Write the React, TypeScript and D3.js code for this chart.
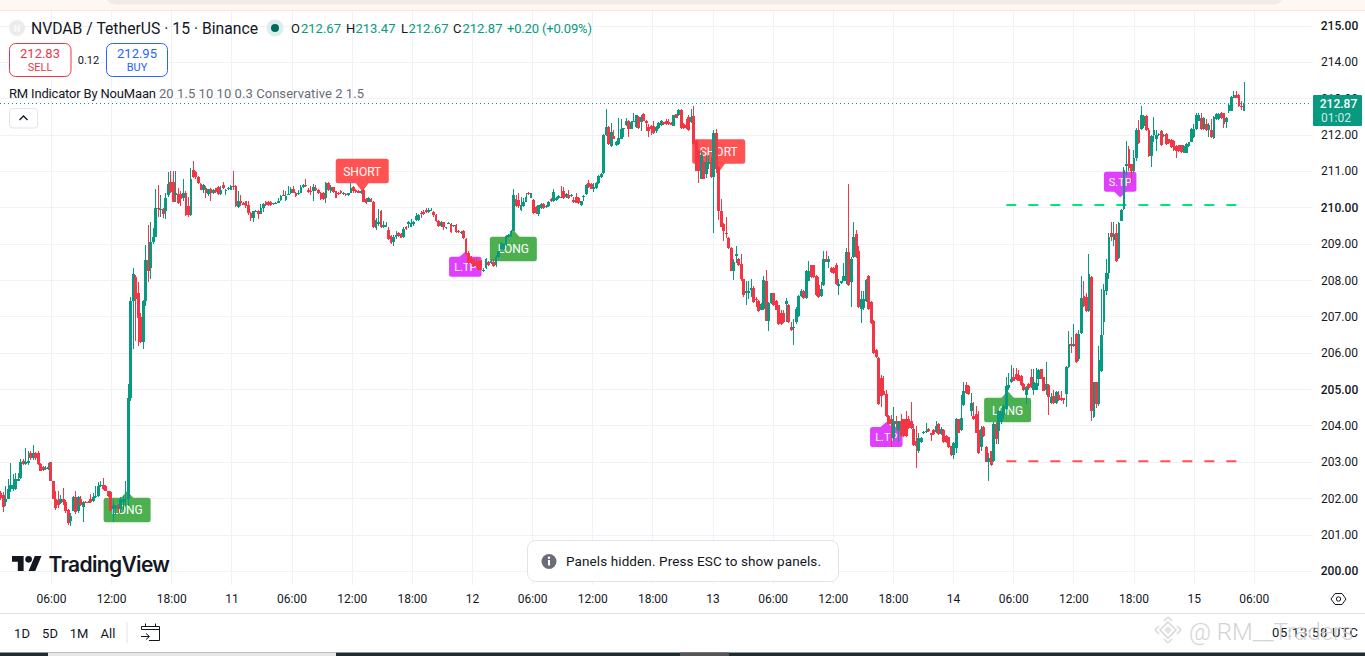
import React from "react";
import * as d3 from "d3";

// Each bar: [open, close, high, low]
type Bar = [number, number, number, number];

const barsOct10Morning: Bar[] = [
  [202.15,202.02,202.2,201.95],[202.1,201.78,202.19,201.63],[201.9,201.98,202.36,201.8],[202.0,202.27,202.54,201.98],
  [202.27,202.38,202.98,202.17],[202.27,202.38,202.68,202.2],[202.27,202.54,202.72,202.24],[202.5,202.54,202.72,202.48],
  [202.56,203.02,203.1,202.55],[203.05,202.95,203.1,202.93],[202.95,203.0,203.39,202.92],[202.97,203.04,203.3,202.92],
  [203.27,203.13,203.3,203.06],[203.13,203.27,203.48,203.06],[203.25,203.12,203.28,203.06],[203.25,202.95,203.3,202.93],
  [202.95,202.77,202.98,202.75],[202.88,202.78,202.9,202.75],[202.81,202.85,202.9,202.78],[202.83,202.87,202.97,202.78],
  [203.0,202.48,203.0,202.48],[202.48,202.0,202.5,202.0],[202.0,201.74,202.2,201.7],[201.96,201.82,202.2,201.75],
  [201.87,202.0,202.1,201.85],[202.0,201.9,202.28,201.83],[201.92,201.66,201.95,201.6],[201.7,201.33,201.72,201.28],
  [201.38,201.52,201.6,201.25],[201.67,202.05,202.08,201.65],[202.05,201.62,202.22,201.58],[201.67,202.05,202.08,201.6],
  [201.98,201.82,202.06,201.8],[201.78,201.9,201.93,201.35],[201.92,201.9,201.93,201.88],[201.92,201.9,201.93,201.88],
  [202.0,201.9,202.13,201.88],[201.93,202.05,202.15,201.9],[202.05,202.08,202.36,202.03],[202.08,202.36,202.45,202.05],
  [202.36,202.38,202.48,202.33],[202.38,202.27,202.57,202.25],[202.36,202.22,202.38,202.2],[202.2,202.06,202.22,202.04],
  [202.17,201.67,202.2,201.65],[201.72,201.83,201.95,201.35],[201.75,201.8,201.83,201.55],[201.83,201.72,201.85,201.6],
  [201.72,202.0,202.05,201.6],[201.9,202.0,202.06,201.7],[201.95,202.0,202.48,201.8],
];

const barsOct10Pump: Bar[] = [
  [202.0,204.78,205.15,201.8],[204.78,207.44,207.56,204.7],[207.44,208.18,208.35,206.12],[208.1,207.5,208.15,206.35],
  [207.65,206.98,207.97,206.2],[207.0,206.3,207.1,206.27],[206.3,207.44,207.46,206.12],[207.44,208.57,208.98,207.3],
  [208.57,208.27,209.54,207.97],[208.34,209.05,209.6,208.05],[209.05,209.2,209.45,209.0],[209.2,210.0,210.52,209.2],
  [210.0,209.97,210.62,209.75],[209.95,209.98,210.36,209.75],[209.97,209.83,210.0,209.72],[209.9,210.27,210.4,209.7],
  [210.35,210.65,210.98,210.3],[210.7,210.43,211.0,210.4],[210.72,210.15,211.0,210.15],[210.35,210.4,211.02,210.15],
  [210.37,210.13,210.55,210.1],[210.37,210.25,210.47,210.05],[210.28,210.42,210.78,210.2],[210.42,209.8,210.45,209.78],
  [210.05,209.8,210.3,209.75],[209.8,210.78,211.1,209.78],[211.05,210.85,211.28,210.83],[210.98,210.85,211.0,210.8],
  [210.85,210.67,210.88,210.65],[210.65,210.5,210.67,210.48],[210.5,210.62,210.65,210.4],[210.55,210.4,210.6,210.28],
  [210.38,210.52,210.53,210.32],[210.53,210.4,210.55,210.2],[210.4,210.5,210.52,210.38],[210.55,210.43,210.55,210.42],
  [210.58,210.38,210.6,210.36],[210.38,210.5,210.6,210.35],[210.62,210.55,210.7,210.53],[210.48,210.5,210.52,210.35],
  [210.52,210.54,210.58,210.5],[210.5,210.6,210.62,210.48],
];

const barsOct11: Bar[] = [
  [210.6,210.58,211.0,210.5],[210.6,210.05,210.62,210.03],[210.03,210.2,210.47,210.0],[210.18,210.13,210.36,210.05],
  [210.13,210.09,210.15,210.07],[210.18,210.05,210.2,210.0],[210.08,209.85,210.2,209.8],[209.85,209.72,209.88,209.65],
  [209.72,209.9,209.92,209.6],[209.9,209.92,209.94,209.88],[209.92,209.83,209.94,209.7],[209.83,210.0,210.1,209.82],
  [210.0,210.1,210.14,209.88],[210.16,210.07,210.18,210.05],[210.16,210.07,210.18,210.05],[210.16,210.08,210.18,210.06],
  [210.1,210.12,210.14,210.08],[210.12,210.14,210.16,210.1],[210.13,210.2,210.26,210.12],[210.22,210.33,210.36,210.2],
  [210.36,210.33,210.48,210.32],[210.22,210.33,210.46,210.2],[210.36,210.38,210.6,210.35],[210.4,210.52,210.58,210.38],
  [210.52,210.42,210.6,210.4],[210.42,210.33,210.44,210.3],[210.38,210.42,210.5,210.36],[210.42,210.58,210.62,210.4],
  [210.58,210.62,210.66,210.55],[210.64,210.6,210.8,210.58],[210.5,210.44,210.55,210.42],[210.47,210.43,210.6,210.35],
  [210.47,210.58,210.65,210.2],[210.55,210.48,210.62,210.46],[210.5,210.4,210.52,210.38],[210.42,210.23,210.44,210.21],
  [210.42,210.23,210.44,210.21],[210.27,210.68,210.7,210.12],[210.68,210.48,210.7,210.46],[210.47,210.58,210.62,210.4],
  [210.56,210.44,210.58,210.42],[210.45,210.28,210.47,210.26],[210.41,210.38,210.43,210.36],[210.47,210.4,210.5,210.38],
  [210.37,210.42,210.44,210.35],[210.38,210.34,210.4,210.32],[210.35,210.4,210.42,210.33],[210.42,210.55,210.68,210.4],
  [210.56,210.45,210.6,210.42],[210.5,210.43,210.52,210.4],[210.47,210.42,210.5,210.4],[210.42,210.47,210.5,210.38],
  [210.5,210.16,210.55,210.15],[210.25,210.14,210.27,210.1],[210.17,210.28,210.3,210.15],[210.23,210.16,210.26,210.15],
  [210.16,209.47,210.18,209.45],[209.44,209.67,209.72,209.4],[209.55,209.6,209.98,209.5],[209.9,209.47,209.93,209.45],
  [209.47,209.52,209.65,209.44],[209.48,209.52,209.62,209.46],[209.4,209.15,209.48,209.12],[209.22,209.02,209.24,209.0],
  [209.05,209.2,209.25,208.95],[209.2,209.24,209.36,209.15],[209.3,209.22,209.34,209.2],[209.28,209.18,209.3,209.16],
  [209.2,209.42,209.48,209.18],[209.48,209.42,209.5,209.4],[209.55,209.6,209.65,209.45],[209.48,209.57,209.68,209.46],
  [209.55,209.61,209.65,209.5],[209.67,209.78,209.85,209.65],[209.67,209.8,209.82,209.65],[209.87,209.84,209.9,209.72],
  [209.88,209.82,209.95,209.8],[209.95,209.88,210.0,209.85],[209.88,209.93,210.0,209.86],[209.93,209.95,210.0,209.9],
  [209.88,209.79,209.9,209.75],[209.8,209.63,209.82,209.6],[209.65,209.5,209.67,209.48],[209.5,209.62,209.64,209.48],
  [209.6,209.48,209.62,209.4],[209.45,209.47,209.48,209.43],[209.57,209.59,209.6,209.55],[209.55,209.33,209.57,209.31],
  [209.5,209.52,209.54,209.48],[209.54,209.34,209.56,209.32],[209.37,209.34,209.4,209.32],[209.31,209.33,209.35,209.29],
  [209.36,209.17,209.38,209.15],[209.15,208.73,209.17,208.7],[208.77,208.48,208.8,208.45],[208.65,208.48,208.67,208.46],
];

const barsOct12: Bar[] = [
  [208.6,208.4,208.62,208.38],[208.5,208.4,208.65,208.38],[208.55,208.3,208.6,208.28],[208.55,208.3,208.57,208.28],
  [208.27,208.29,208.35,208.23],[208.35,208.58,208.62,208.32],[208.51,208.43,208.53,208.41],[208.48,208.55,208.58,208.45],
  [208.52,208.4,208.58,208.38],[208.42,208.65,208.7,208.38],[208.65,208.8,208.82,208.62],[208.88,209.02,209.05,208.85],
  [208.88,209.0,209.02,208.85],[208.98,209.23,209.25,208.96],[209.2,209.24,209.28,209.18],[209.22,209.35,209.4,209.2],
  [209.37,210.35,210.52,209.35],[210.23,210.04,210.35,210.02],[210.22,210.05,210.42,210.0],[209.93,210.07,210.3,209.9],
  [210.04,210.16,210.28,210.02],[210.17,210.3,210.42,210.15],[210.42,210.38,210.44,210.35],[210.28,210.4,210.42,210.26],
  [210.22,209.85,210.24,209.83],[210.03,209.85,210.05,209.83],[209.83,210.07,210.09,209.78],[210.0,210.1,210.12,209.98],
  [210.11,209.99,210.13,209.97],[210.02,210.06,210.08,210.0],[210.05,210.16,210.18,210.03],[210.24,210.19,210.26,210.17],
  [210.18,210.44,210.52,210.16],[210.21,210.27,210.3,210.19],[210.26,210.32,210.36,210.24],[210.3,210.28,210.6,210.26],
  [210.47,210.26,210.56,210.24],[210.3,210.37,210.4,210.28],[210.34,210.26,210.5,210.24],[210.33,210.36,210.38,210.31],
  [210.22,210.16,210.3,210.14],[210.3,210.13,210.4,210.12],[210.28,210.12,210.3,210.1],[210.07,210.18,210.2,210.05],
  [210.3,210.32,210.36,210.2],[210.37,210.62,210.65,210.35],[210.67,210.56,210.76,210.54],[210.65,210.53,210.67,210.51],
  [210.53,210.56,210.68,210.44],[210.54,210.69,210.72,210.52],[210.67,210.87,210.89,210.65],[210.84,210.93,210.95,210.82],
  [210.95,212.0,212.02,210.93],[212.0,212.23,212.72,211.98],[212.22,211.75,212.24,211.72],[211.7,212.08,212.32,211.68],
  [211.97,211.9,212.14,211.88],[211.73,211.82,211.85,211.7],[211.76,211.93,212.46,211.74],[211.9,212.18,212.45,211.88],
  [212.17,212.19,212.2,211.95],[212.27,212.38,212.46,212.25],[212.4,212.18,212.42,211.95],[212.18,212.36,212.38,212.16],
  [212.38,212.4,212.6,212.35],[212.22,212.54,212.56,212.2],[212.5,212.2,212.52,212.18],[212.36,212.5,212.55,212.1],
  [212.57,212.4,212.6,212.38],[212.4,212.33,212.42,212.1],[212.22,212.12,212.3,211.95],[212.24,212.16,212.28,212.0],
  [212.24,212.06,212.38,212.03],[212.12,212.22,212.26,212.05],[212.2,212.34,212.36,212.18],[212.28,212.4,212.42,212.26],
  [212.35,212.31,212.37,212.29],[212.38,212.31,212.44,212.29],[212.35,212.31,212.44,212.29],[212.33,212.29,212.35,212.27],
  [212.26,212.54,212.56,212.24],[212.57,212.48,212.59,212.46],[212.54,212.7,212.72,212.52],[212.7,212.2,212.72,212.18],
  [212.3,212.2,212.32,212.18],[212.27,212.2,212.45,212.18],[212.5,212.13,212.55,212.1],[212.36,212.5,212.72,212.33],
  [212.52,211.76,212.79,211.74],[211.85,211.02,211.87,211.0],[211.58,211.02,211.6,210.68],[210.8,211.46,211.6,210.78],
  [211.27,210.8,211.3,210.78],[210.92,211.27,211.46,210.83],[211.2,211.25,211.45,211.07],[211.27,210.85,211.4,210.82],
];

const barsOct13: Bar[] = [
  [210.85,212.07,212.14,209.32],[212.07,211.08,212.18,210.95],[211.13,209.92,211.15,209.67],[209.9,209.48,210.25,209.46],
  [209.55,209.37,209.57,209.1],[209.3,209.28,209.75,209.18],[209.17,208.9,209.2,208.88],[208.9,208.27,208.92,208.25],
  [208.27,208.52,208.6,208.02],[208.67,208.73,208.95,208.48],[208.6,208.42,208.62,208.4],[208.45,208.03,208.72,208.0],
  [208.03,207.6,208.05,207.55],[207.66,207.72,208.0,207.32],[207.66,207.72,208.0,207.5],[207.74,207.8,208.05,207.55],
  [207.8,207.4,207.84,207.38],[207.5,207.48,207.55,207.28],[207.45,207.16,207.47,207.14],[207.2,207.35,207.37,207.18],
  [207.22,208.02,208.12,207.2],[207.98,206.9,208.3,206.88],[206.9,207.38,207.4,206.62],[207.38,207.65,207.67,207.36],
  [207.65,207.32,207.67,207.3],[207.45,207.2,207.47,207.18],[207.32,206.8,207.34,206.78],[207.1,206.8,207.2,206.78],
  [207.1,206.85,207.2,206.83],[207.36,207.44,207.52,206.85],[207.33,206.85,207.35,206.83],[206.72,206.65,206.85,206.6],
  [206.7,206.72,206.95,206.22],[206.85,207.22,207.28,206.8],[207.02,207.58,207.6,207.0],[207.58,207.72,207.76,207.56],
  [207.72,207.52,207.75,207.5],[207.52,208.27,208.3,207.5],[208.0,208.27,208.55,207.98],[208.42,208.1,208.44,208.08],
  [208.42,208.1,208.44,208.08],[208.12,207.6,208.15,207.58],[207.87,207.55,208.1,207.53],[207.58,207.78,207.97,207.56],
  [207.87,208.58,208.82,207.85],[208.58,208.52,208.8,208.5],[208.52,208.58,208.68,208.35],[208.35,208.24,208.38,208.22],
  [208.34,208.2,208.36,208.18],[208.44,207.9,208.47,207.88],[207.85,207.9,208.03,207.6],[207.92,207.98,208.0,207.9],
  [208.0,208.12,208.48,207.98],[208.0,208.78,208.9,207.9],[208.78,207.88,210.65,207.86],[207.95,208.6,208.65,207.27],
  [208.64,209.2,209.6,208.62],[209.28,208.64,209.4,208.62],[208.8,207.26,208.95,207.24],[207.23,207.5,207.72,206.82],
  [207.25,207.48,207.7,207.2],[207.44,208.02,208.04,207.42],[208.12,207.22,208.14,207.2],[207.41,206.82,207.43,206.8],
  [206.9,206.0,206.92,205.98],[206.1,205.9,206.12,205.88],[205.88,204.6,205.9,204.58],[205.33,204.83,205.4,204.52],
  [204.97,204.86,205.38,204.85],[204.88,204.28,204.98,204.25],[204.28,204.05,204.3,204.03],[204.18,204.05,204.3,203.42],
  [203.66,204.14,204.53,203.6],[204.14,204.05,204.28,203.9],[203.85,204.14,204.15,203.55],[204.14,203.72,204.32,203.7],
  [204.18,203.72,204.2,203.7],[204.18,203.72,204.42,203.7],[204.2,203.95,204.28,203.93],[204.14,203.95,204.67,203.93],
  [203.92,203.48,204.05,203.46],[203.6,203.45,204.0,202.85],[203.3,203.68,203.82,203.25],[203.55,203.67,203.7,203.52],
];

const barsOct14: Bar[] = [
  [203.8,203.83,203.86,203.77],[203.84,203.87,204.07,203.8],[203.93,203.85,203.95,203.83],[203.8,203.75,203.82,203.6],
  [203.9,203.78,203.92,203.76],[203.84,204.0,204.14,203.82],[204.05,203.77,204.07,203.75],[203.77,203.92,203.96,203.75],
  [203.9,203.55,203.92,203.53],[203.72,203.55,203.74,203.53],[203.69,203.42,203.71,203.4],[203.44,203.2,203.46,203.18],
  [203.2,203.53,203.55,203.1],[203.4,204.2,204.22,203.25],[204.18,203.82,204.2,203.8],[203.88,204.23,204.86,203.86],
  [204.58,204.95,205.2,204.56],[205.13,204.9,205.2,204.88],[205.1,204.87,205.12,204.85],[204.4,204.62,204.9,204.28],
  [204.28,204.18,204.65,204.16],[204.33,203.82,204.55,203.8],[203.9,203.26,204.4,203.24],[203.42,203.92,204.0,203.3],
  [203.97,203.72,204.0,203.7],[203.42,203.02,203.44,203.0],[203.02,203.12,203.25,202.48],[203.3,202.93,203.32,202.91],
  [203.03,204.05,204.1,203.0],[204.05,203.65,204.1,203.5],[203.85,204.4,204.45,203.5],[204.1,204.4,204.42,204.05],
  [204.3,204.55,204.6,204.2],[204.47,205.1,205.35,204.45],[205.05,205.13,205.47,204.98],[205.2,205.28,205.67,205.18],
  [205.35,205.25,205.6,205.23],[205.42,205.28,205.6,205.26],[205.4,205.25,205.55,205.23],[205.38,205.12,205.4,205.1],
  [205.16,204.99,205.18,204.97],[204.84,205.08,205.1,204.6],[205.15,205.05,205.18,205.0],[205.35,205.07,205.58,205.05],
  [205.0,205.2,205.58,204.85],[205.0,205.18,205.6,204.98],[205.3,205.55,205.58,205.1],[205.56,205.3,205.58,205.28],
  [205.34,204.97,205.36,204.95],[205.0,205.16,205.75,204.84],[205.14,204.8,205.16,204.3],[204.63,204.8,204.9,204.6],
  [204.83,204.63,204.98,204.6],[204.63,204.93,204.95,204.6],[204.85,204.72,204.97,204.7],[204.78,204.72,204.95,204.7],
  [204.76,204.72,204.78,204.6],[204.87,205.63,205.65,204.53],[205.62,206.25,206.6,205.6],[206.26,206.21,206.45,206.0],
  [206.2,206.25,206.8,206.18],[206.52,205.75,206.55,205.73],[205.83,206.52,206.65,205.8],[206.55,207.53,208.12,206.52],
  [207.58,207.3,208.0,207.28],[207.56,207.15,207.65,207.13],[207.15,208.17,208.72,207.13],[208.1,204.4,208.12,204.13],
  [204.25,205.2,205.22,204.22],[205.2,204.6,205.22,204.5],[204.6,205.82,206.2,204.55],[205.5,206.5,207.78,205.48],
  [206.85,207.75,207.9,206.5],[207.7,208.2,208.6,207.6],[208.2,209.2,209.3,208.05],[209.3,209.2,209.6,209.1],
  [209.12,209.28,209.6,208.95],[209.3,208.53,209.55,208.5],[208.62,209.58,209.62,208.6],[209.65,209.95,209.98,209.63],
  [209.98,211.03,211.12,209.95],[211.15,211.2,211.85,210.9],[211.62,211.1,211.7,211.0],[211.2,211.0,211.2,210.7],
  [211.0,211.38,211.6,210.95],[211.38,212.15,212.2,211.3],[212.15,211.78,212.42,211.75],[212.17,212.55,212.8,212.15],
];

const barsOct15: Bar[] = [
  [212.25,212.53,212.55,212.2],[212.52,212.15,212.54,212.1],[212.15,211.42,212.2,211.4],[211.42,211.98,212.0,211.12],
  [212.0,212.15,212.5,211.8],[211.9,212.0,212.13,211.55],[212.0,212.02,212.06,211.98],[212.12,211.72,212.15,211.7],
  [211.98,212.0,212.02,211.95],[212.03,211.75,212.05,211.73],[211.88,211.77,211.9,211.75],[211.86,211.68,211.88,211.65],
  [211.85,211.58,211.87,211.56],[211.7,211.55,211.72,211.37],[211.72,211.55,211.74,211.53],[211.72,211.53,211.74,211.52],
  [211.52,211.7,211.72,211.5],[211.52,211.76,211.78,211.5],[211.7,211.8,211.82,211.66],[211.82,212.16,212.2,211.8],
  [211.95,212.16,212.3,211.93],[212.16,212.56,212.6,212.14],[212.4,212.55,212.6,212.38],[212.47,212.16,212.6,212.14],
  [212.16,212.46,212.5,212.14],[212.3,212.14,212.45,212.12],[212.15,212.28,212.32,211.95],[212.14,211.96,212.45,211.93],
  [211.93,212.5,212.52,211.9],[212.44,212.58,212.62,212.42],[212.44,212.58,212.62,212.42],[212.62,212.47,212.64,212.45],
  [212.6,212.3,212.62,212.2],[212.37,212.47,212.5,212.2],[212.65,212.83,212.85,212.62],[212.67,213.05,213.07,212.65],
  [213.03,213.09,213.22,213.01],[213.1,213.03,213.2,213.01],[213.1,212.8,213.12,212.78],[212.8,212.76,212.95,212.7],
  [212.67,212.87,213.47,212.67],
];

const bars: Bar[] = [...barsOct10Morning, ...barsOct10Pump, ...barsOct11, ...barsOct12, ...barsOct13, ...barsOct14, ...barsOct15];

const priceTicks = [215, 214, 213, 212, 211, 210, 209, 208, 207, 206, 205, 204, 203, 202, 201, 200];
const strongPrices = [215, 210, 205, 200];
const timeLabels = ["06:00","12:00","18:00","11","06:00","12:00","18:00","12","06:00","12:00","18:00","13","06:00","12:00","18:00","14","06:00","12:00","18:00","15","06:00"];
const timeHours = [6,12,18,24,30,36,42,48,54,60,66,72,78,84,90,96,102,108,114,120,126];

type Signal = { text: string; bar: number; price: number; dir: "up" | "down"; color: string };
const signals: Signal[] = [
  { text: "LONG", bar: 50.5, price: 202.21, dir: "up", color: "#4caf50" },
  { text: "SHORT", bar: 144.5, price: 210.44, dir: "down", color: "#ff5252" },
  { text: "L.TP", bar: 185.7, price: 208.79, dir: "up", color: "#e040fb" },
  { text: "LONG", bar: 204.9, price: 209.39, dir: "up", color: "#4caf50" },
  { text: "SHORT", bar: 287, price: 210.98, dir: "down", color: "#ff5252" },
  { text: "L.TP", bar: 354, price: 204.11, dir: "up", color: "#e040fb" },
  { text: "LONG", bar: 402.5, price: 204.96, dir: "up", color: "#4caf50" },
  { text: "S.TP", bar: 447.5, price: 210.28, dir: "down", color: "#e040fb" },
];

const lastPrice = 212.87;
const targetLevels = [
  { price: 210.08, color: "#00e676", from: 402, to: 494.5 },
  { price: 203.03, color: "#ff5252", from: 402, to: 494.5 },
];
const ohlcLabels = [
  { key: "O", value: "212.67", kx: 291, vx: 301 },
  { key: "H", value: "213.47", kx: 346, vx: 355.5 },
  { key: "L", value: "212.67", kx: 401, vx: 408.5 },
  { key: "C", value: "212.87", kx: 453, vx: 462.5 },
];

const UP = "#089981";
const DOWN = "#f23645";
const FONT = "Roboto, sans-serif";
const INK = "#131722";
const GRID = "#f1f2f5";

const y = d3.scaleLinear().domain([200, 215]).range([571.4, 26]);
const xBar = d3.scaleLinear().domain([0, bars.length - 1]).range([0.8, 1244]);
const xTime = d3.scaleLinear().domain([6, 126]).range([51.5, 1254.3]);

function Candles() {
  return (
    <g shapeRendering="crispEdges">
      {bars.map(([o, c, h, l], i) => {
        const cx = xBar(i);
        const color = c >= o ? UP : DOWN;
        const left = Math.round(cx - 1.4);
        const right = Math.round(cx + 1.4);
        const top = Math.round(y(Math.max(o, c)));
        const bottom = Math.round(y(Math.min(o, c)));
        const wt = Math.round(y(h));
        const wb = Math.round(y(l));
        return (
          <g key={i} fill={color}>
            <rect x={Math.round(cx - 0.5)} y={wt} width={1} height={Math.max(1, wb - wt)} />
            <rect x={left} y={top} width={right - left} height={Math.max(1, bottom - top)} />
          </g>
        );
      })}
    </g>
  );
}

function SignalTag({ s }: { s: Signal }) {
  const tx = xBar(s.bar);
  const ty = y(s.price);
  const isTp = s.text.includes("TP");
  const w = isTp ? 32.5 : s.text === "SHORT" ? 53 : 47;
  const h = isTp ? 20 : 24.5;
  const gap = s.dir === "down" ? (isTp ? 5.8 : 8.5) : (isTp ? 5 : 6.7);
  const boxTop = s.dir === "up" ? ty + gap : ty - gap - h;
  const baseY = s.dir === "up" ? boxTop : boxTop + h;
  return (
    <g>
      <rect x={tx - w / 2} y={boxTop} width={w} height={h} rx={2.5} fill={s.color} />
      <path d={`M${tx - 7} ${baseY + (s.dir === "up" ? 1 : -1)}L${tx} ${ty}L${tx + 7} ${baseY + (s.dir === "up" ? 1 : -1)}Z`} fill={s.color} />
      <text x={tx} y={boxTop + h / 2 + 0.5} textAnchor="middle" dominantBaseline="central" fill="#fff" fontSize={isTp ? 11 : 12} fontFamily={FONT}>{s.text}</text>
    </g>
  );
}

function Watermark() {
  return (
    <g>
      <g fill="none" stroke="#d9d9d9" strokeWidth={1.6}>
        <path d="M1168 622L1176 630L1168 638L1160 630Z" />
        <path d="M1168 617L1172 621M1168 617L1164 621M1168 643L1172 639M1168 643L1164 639M1155 630L1159 626M1155 630L1159 634M1181 630L1177 626M1181 630L1177 634" />
      </g>
      <path d="M1168 626L1172 630L1168 634L1164 630Z" fill="#e2e2e2" />
      <text x={1189} y={632} dominantBaseline="central" fontFamily={FONT} fontSize={24} fontWeight={300} fill="#cfcfcf" opacity={0.9}>@ RM__Traders</text>
    </g>
  );
}

export default function App() {
  const yLast = y(lastPrice);
  return (
    <svg width={1365} height={656} viewBox="0 0 1365 656" style={{ position: "absolute", left: 0, top: 0, display: "block", background: "#fff" }} fontFamily={FONT}>
      {/* top browser strip */}
      <rect x={0} y={0} width={1365} height={10.5} fill="#fef7f2" />
      <path d="M107 0H1282C1280 3 1276 4.5 1272 4.5H117C113 4.5 109 3 107 0Z" fill="#f3e9e5" />
      <rect x={0} y={10} width={1365} height={1} fill="#fbe6d8" />

      {/* grid */}
      <g stroke={GRID} strokeWidth={1} shapeRendering="crispEdges">
        {timeHours.map((h) => <line key={h} x1={xTime(h)} x2={xTime(h)} y1={11} y2={585} />)}
        {priceTicks.map((p) => <line key={p} x1={0} x2={1312} y1={y(p)} y2={y(p)} />)}
      </g>

      {/* last price line */}
      <line x1={0} x2={1312} y1={yLast} y2={yLast} stroke={UP} strokeWidth={1} strokeDasharray="1 3" shapeRendering="crispEdges" />

      {/* signal tags sit under the candles */}
      {signals.map((s, i) => <SignalTag key={i} s={s} />)}

      {/* target levels */}
      {targetLevels.map((t) => (
        <line key={t.price} x1={xBar(t.from)} x2={xBar(t.to)} y1={y(t.price)} y2={y(t.price)} stroke={t.color} strokeWidth={2} strokeDasharray="10 12" />
      ))}

      <Candles />

      {/* price axis */}
      {priceTicks.map((p) => (
        <text key={p} x={1339.5} y={y(p)} textAnchor="middle" dominantBaseline="central" fontSize={12} fontWeight={strongPrices.includes(p) ? 500 : 400} fill={INK}>{d3.format(".2f")(p)}</text>
      ))}
      <rect x={1313} y={95} width={49} height={31} rx={1} fill={UP} />
      <text x={1338.5} y={103.8} textAnchor="middle" dominantBaseline="central" fontSize={12} fontWeight={500} fill="#fff">{d3.format(".2f")(lastPrice)}</text>
      <text x={1336} y={117.5} textAnchor="middle" dominantBaseline="central" fontSize={12} fill="#cfe9e4">01:02</text>

      {/* time axis */}
      {timeLabels.map((t, i) => (
        <text key={i} x={xTime(timeHours[i])} y={598.5} textAnchor="middle" dominantBaseline="central" fontSize={12} fill={INK}>{t}</text>
      ))}
      <rect x={0} y={613} width={1365} height={1} fill="#e0e3eb" />

      {/* settings icon */}
      <path d="M1335 593.5H1342L1346 599L1342 604.5H1335L1331 599Z" fill="none" stroke={INK} strokeWidth={1} />
      <circle cx={1338.5} cy={599} r={2.2} fill="none" stroke={INK} strokeWidth={1} />

      {/* legend */}
      <circle cx={17} cy={28} r={8} fill="#ebebeb" />
      <text x={17} y={28.5} textAnchor="middle" dominantBaseline="central" fontSize={9} fontWeight={700} fill="#fafafa">N</text>
      <text x={31} y={28} dominantBaseline="central" fontSize={15.7} fill={INK} textLength={227} lengthAdjust="spacing">NVDAB / TetherUS · 15 · Binance</text>
      <circle cx={275} cy={28} r={8.5} fill="#daeeee" />
      <circle cx={275} cy={28} r={4} fill="#006b5b" />
      {ohlcLabels.map((l) => (
        <g key={l.key} fontSize={13}>
          <text x={l.kx} y={28} dominantBaseline="central" fill={INK}>{l.key}</text>
          <text x={l.vx} y={28} dominantBaseline="central" fill={UP}>{l.value}</text>
        </g>
      ))}
      <text x={507} y={28} dominantBaseline="central" fontSize={13} fill={UP} textLength={85} lengthAdjust="spacing">+0.20 (+0.09%)</text>

      <rect x={9.5} y={43.5} width={61.5} height={33} rx={6} fill="#fff" stroke={DOWN} />
      <text x={40} y={53} textAnchor="middle" dominantBaseline="central" fontSize={13} fill={DOWN}>212.83</text>
      <text x={40} y={67.5} textAnchor="middle" dominantBaseline="central" fontSize={11} fill={DOWN}>SELL</text>
      <text x={88.5} y={60} textAnchor="middle" dominantBaseline="central" fontSize={11} fill={INK}>0.12</text>
      <rect x={106.5} y={43.5} width={61} height={33} rx={6} fill="#fff" stroke="#2962ff" />
      <text x={137} y={53} textAnchor="middle" dominantBaseline="central" fontSize={13} fill="#2962ff">212.95</text>
      <text x={137} y={67.5} textAnchor="middle" dominantBaseline="central" fontSize={11} fill="#2962ff">BUY</text>

      <text x={9} y={93.5} dominantBaseline="central" fontSize={13} fill={INK} textLength={147} lengthAdjust="spacing">RM Indicator By NouMaan</text>
      <text x={159} y={93.5} dominantBaseline="central" fontSize={13} fill="#6a6d78" textLength={205} lengthAdjust="spacing">20 1.5 10 10 0.3 Conservative 2 1.5</text>
      <rect x={9.5} y={108.5} width={28} height={19.5} rx={3} fill="#fff" stroke="#e0e3eb" />
      <path d="M19.5 120L23.5 116L27.5 120" fill="none" stroke={INK} strokeWidth={1.3} />

      {/* TradingView logo */}
      <g transform="translate(12,552.7) scale(0.83)" fill="#131722">
        <path d="M14 22H7V11H0V4h14v18zM28 22h-8l7.5-18h8L28 22z" />
        <circle cx={20} cy={8} r={4} />
      </g>
      <text x={48.5} y={564} dominantBaseline="central" fontSize={21} fontWeight={600} fontFamily="Inter, Roboto, sans-serif" fill="#131722" textLength={121.5} lengthAdjust="spacing">TradingView</text>

      {/* toast */}
      <rect x={527.5} y={540.5} width={311} height={41} rx={8} fill="#fff" stroke="#e0e3eb" />
      <circle cx={549} cy={561.5} r={7.5} fill="#6a6d78" />
      <rect x={548} y={560} width={2} height={5.5} fill="#fff" />
      <circle cx={549} cy={557.8} r={1.2} fill="#fff" />
      <text x={566} y={561} dominantBaseline="central" fontSize={13.5} fill={INK} textLength={255} lengthAdjust="spacing">Panels hidden. Press ESC to show panels.</text>

      {/* bottom toolbar */}
      {[["1D", 22], ["5D", 50], ["1M", 79], ["All", 108]].map(([t, x]) => (
        <text key={t as string} x={x as number} y={633} textAnchor="middle" dominantBaseline="central" fontSize={13} fill={INK}>{t}</text>
      ))}
      <rect x={126.5} y={622} width={1} height={21} fill="#e0e3eb" />
      <g fill="none" stroke={INK} strokeWidth={1}>
        <path d="M141.5 629.5V626.5H159.5V640.5H149" />
        <path d="M141.5 629.5H159.5M145.5 623.5V626.5M155.5 623.5V626.5" />
        <path d="M141 636.5H149M146 633.5L149.5 636.5L146 639.5" />
      </g>
      <text x={1272} y={632} dominantBaseline="central" fontSize={13} fill={INK} textLength={86} lengthAdjust="spacing">05:13:58 UTC</text>
      <Watermark />

      {/* bottom strip */}
      <rect x={0} y={652.5} width={1365} height={3.5} fill="#1f2d33" />
      <rect x={48} y={652.5} width={288} height={3.5} fill="#e8e8e8" />
      <rect x={680} y={652.5} width={49} height={3.5} fill="#555" />
    </svg>
  );
}
